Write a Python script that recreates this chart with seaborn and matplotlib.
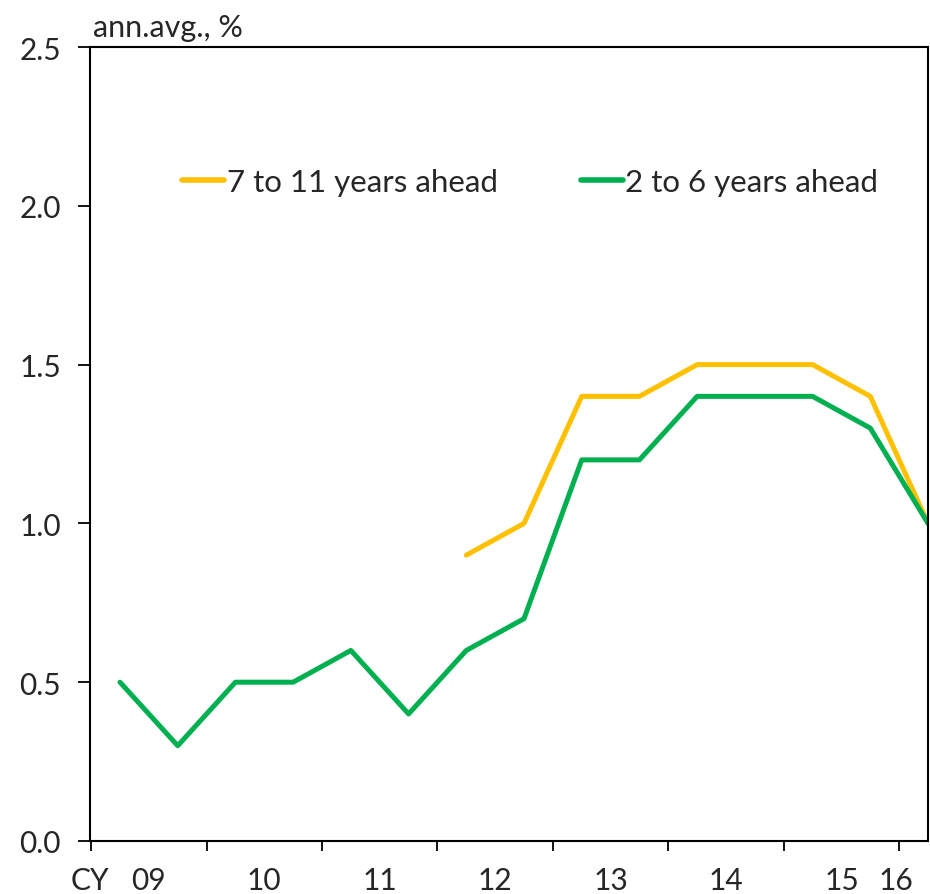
import numpy as np
import pandas as pd
import matplotlib
matplotlib.use("Agg")
import matplotlib.pyplot as plt
import seaborn as sns

# Data (half-yearly observations)
periods = [2009.25, 2009.75, 2010.25, 2010.75, 2011.25, 2011.75, 2012.25, 2012.75,
           2013.25, 2013.75, 2014.25, 2014.75, 2015.25, 2015.75, 2016.25]
green_2to6 = [0.5, 0.3, 0.5, 0.5, 0.6, 0.4, 0.6, 0.7, 1.2, 1.2, 1.4, 1.4, 1.4, 1.3, 1.0]
yellow_7to11 = [np.nan] * 6 + [0.9, 1.0, 1.4, 1.4, 1.5, 1.5, 1.5, 1.4, 1.0]
series_names = ["7 to 11 years ahead", "2 to 6 years ahead"]
series_colors = ["#FFC000", "#00B050"]
year_labels = ["CY", "09", "10", "11", "12", "13", "14", "15", "16"]
yticks = [0.0, 0.5, 1.0, 1.5, 2.0, 2.5]

df = pd.concat([
    pd.DataFrame({"period": periods, "value": yellow_7to11, "series": series_names[0]}),
    pd.DataFrame({"period": periods, "value": green_2to6, "series": series_names[1]}),
]).dropna()

sns.set_style("white")
plt.rcParams["font.family"] = ["Lato", "DejaVu Sans"]

fig = plt.figure(figsize=(9.3, 8.95), dpi=100)
ax = fig.add_axes([90/930, 1 - 842/895, 838/930, 794/895])

sns.lineplot(data=df, x="period", y="value", hue="series", hue_order=series_names,
             palette=series_colors, linewidth=3.6, ax=ax, legend=True, estimator=None)

ax.set_xlim(2009.0, 2016.25)
ax.set_ylim(0, 2.5)
ax.set_yticks(yticks)
ax.set_yticklabels([f"{v:.1f}" for v in yticks], fontsize=21.5)

# major ticks at year boundaries (marks only)
ax.xaxis.remove_overlapping_locs = False
ax.set_xticks(np.arange(2009, 2017))
ax.set_xticklabels([])
# labels placed via minor ticks
label_pos = [2008.99, 2009.5, 2010.5, 2011.5, 2012.5, 2013.5, 2014.5, 2015.5, 2015.97]
ax.set_xticks(label_pos, minor=True)
ax.set_xticklabels(year_labels, minor=True, fontsize=21.5)
ax.tick_params(axis="x", which="minor", length=0, pad=18)
ax.tick_params(axis="x", which="major", direction="out", length=7, width=1.3, color="black", bottom=True)
ax.tick_params(axis="y", direction="out", length=9, width=1.3, color="black", left=True, labelsize=21.5, pad=12)

for s in ax.spines.values():
    s.set_color("black")
    s.set_linewidth(1.5)
    s.set_visible(True)

ax.set_xlabel("")
ax.set_ylabel("")

ax.text(0.004, 1.008, "ann.avg., %", transform=ax.transAxes, fontsize=22, ha="left", va="bottom")

leg = ax.legend(ncol=2, frameon=False, fontsize=22.5, loc="center left",
                bbox_to_anchor=(0.095, 0.83), handlelength=1.35, handletextpad=0.08,
                columnspacing=2.65, borderaxespad=0)
for line in leg.get_lines():
    line.set_linewidth(4)

fig.savefig("out.png", dpi=100)
